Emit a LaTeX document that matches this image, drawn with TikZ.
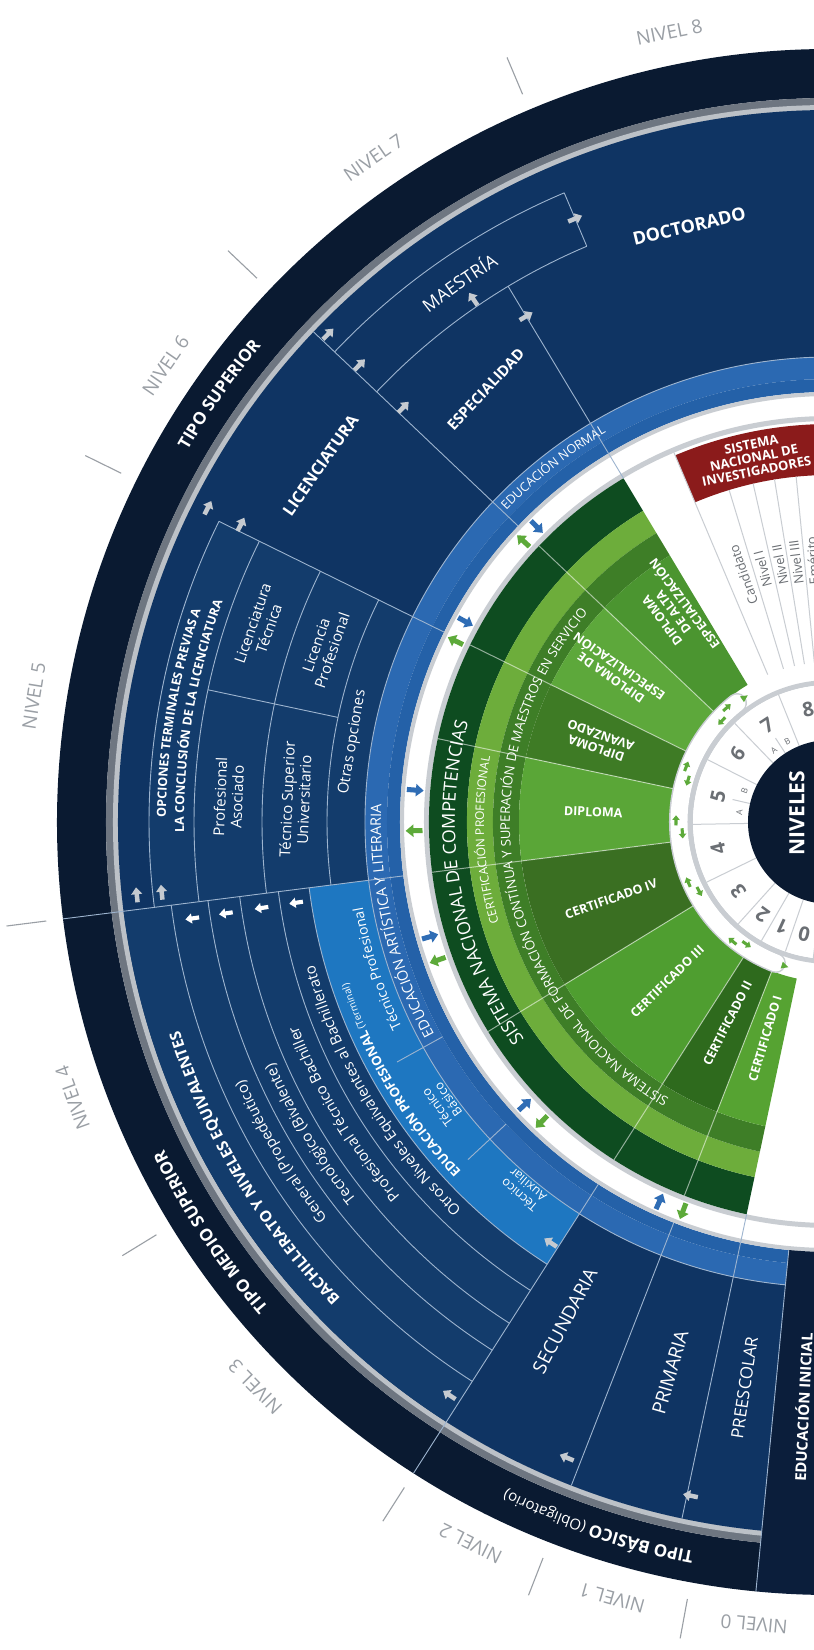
\documentclass[tikz,border=0pt]{standalone}
\usepackage{fontspec}
\setmainfont{Open Sans}
\usetikzlibrary{decorations.text}
\definecolor{navy}{HTML}{0A1A31}
\definecolor{inicial}{HTML}{0B1E3B}
\definecolor{gmid}{HTML}{6E7681}
\definecolor{glight}{HTML}{BCC1C7}
\definecolor{mblue}{HTML}{0F3463}
\definecolor{rblue}{HTML}{133C6C}
\definecolor{nbo}{HTML}{2B69B2}
\definecolor{nbi}{HTML}{2461A8}
\definecolor{pblue}{HTML}{1E77C1}
\definecolor{lline}{HTML}{9DB4CF}
\definecolor{gdark}{HTML}{0E4C20}
\definecolor{glt}{HTML}{6DAD3B}
\definecolor{gmd}{HTML}{3E7E27}
\definecolor{sA}{HTML}{4B9530}
\definecolor{sB}{HTML}{5DA83B}
\definecolor{sC}{HTML}{3E7B25}
\definecolor{sD}{HTML}{5AA637}
\definecolor{sE}{HTML}{3A6F22}
\definecolor{sF}{HTML}{4F9E30}
\definecolor{sG}{HTML}{2E6A1D}
\definecolor{sH}{HTML}{56A332}
\definecolor{snired}{HTML}{8B1B1B}
\definecolor{ringgray}{HTML}{C9CDD2}
\definecolor{numgray}{HTML}{6B6F74}
\definecolor{lvlgray}{HTML}{9A9FA5}
\definecolor{arrg}{HTML}{C5CAD0}
\definecolor{arrb}{HTML}{2F6DB5}
\definecolor{arrgr}{HTML}{5DAA3A}
\newcommand\fsz[1]{\fontsize{#1}{#1}\selectfont}
\newcommand\annul[5]{\fill[#5] (#1:#3) arc[start angle=#1,end angle=#2,radius=#3] -- (#2:#4) arc[start angle=#2,end angle=#1,radius=#4] -- cycle;}
\newcommand\radl[4][lnc]{\draw[#1] (#2:#3) -- (#2:#4);}
\newcommand\carc[4][lnc]{\draw[#1] (#2:#4) arc[start angle=#2,end angle=#3,radius=#4];}
\newcommand\ctxt[5]{\path[decorate,decoration={text along path,text align=center,text={|#4|#5}}] (#1:#3) arc[start angle=#1,end angle=#2,radius=#3];}
\newcommand\barrow[5][1]{\fill[#5,shift={(#2:#3)},rotate=#4,scale=#1] (-6,-1.8) -- (0.5,-1.8) -- (0.5,-4.5) -- (6,0) -- (0.5,4.5) -- (0.5,1.8) -- (-6,1.8) -- cycle;}
\newcommand\tri[4]{\fill[#4,shift={(#1:#2)},rotate=#3] (4,0) -- (-3,3.5) -- (-3,-3.5) -- cycle;}
\begin{document}
\begin{tikzpicture}[x=1pt,y=1pt,
  lnc/.style={draw=lline,line width=0.9pt},
  gln/.style={draw=white,draw opacity=0.55,line width=1pt},
  gyln/.style={draw=ringgray,line width=1pt},
  lvl/.style={text=lvlgray,font=\fsz{19}},
  tickl/.style={draw=lvlgray,line width=1.1pt},
  wlab/.style={text=white,font=\fontsize{15}{17}\selectfont,align=center},
  wbold/.style={text=white,font=\fsz{15}\bfseries},
  glab/.style={text=white,font=\fontsize{12.5}{14}\selectfont\bfseries,align=center},
  num/.style={text=numgray,font=\fsz{20}\bfseries},
  sml/.style={text=numgray,font=\fsz{8.5}},
  sni/.style={text=numgray,font=\fsz{13}},
]
\useasboundingbox (-830,-828) rectangle (-16,822);
\fill[white] (-830,-828) rectangle (-16,822);

% ---------- outer ring and gray band
\annul{88}{264.5}{773}{724}{navy}
\annul{88}{264.5}{724}{712}{gmid}
\annul{88}{264.5}{717}{712}{glight}
% ---------- main blue regions
\annul{88}{264.5}{712}{465}{mblue}
\annul{187.2}{237.4}{712}{525}{rblue}
\annul{153.8}{187.2}{681}{465}{rblue}
\annul{187.2}{237.4}{525}{465}{pblue}
% ---------- normal band
\annul{88}{264.5}{465}{443}{nbo}
\annul{88}{264.5}{443}{430}{nbi}
% ---------- white ring borders
\annul{88}{272}{430}{426}{ringgray}
\annul{88}{272}{406}{401}{ringgray}
% ---------- educacion inicial
\annul{264.5}{272}{773}{430}{inicial}

% ---------- green
\annul{121}{258}{401}{363}{gdark}
\annul{121}{258}{363}{337}{glt}
\annul{121}{258}{337}{311}{gmd}
\annul{121}{136.5}{311}{160}{sA}
\annul{136.5}{153.8}{311}{160}{sB}
\annul{153.8}{168}{311}{160}{sC}
\annul{168}{187.2}{311}{160}{sD}
\annul{187.2}{211.5}{311}{160}{sE}
\annul{211.5}{237.4}{311}{160}{sF}
\annul{237.4}{248.7}{311}{160}{sG}
\annul{248.7}{258}{311}{160}{sH}
\foreach \a in {136.5,153.8,168,187.2,211.5,237.4,248.7} {\radl[gln]{\a}{401}{160}}

% ---------- SNI
\annul{88}{112.9}{398}{347}{snired}
\radl[gyln]{112.9}{401}{160}
\foreach \a in {106.9,102.8,99.2,95.6} {\radl[gyln]{\a}{347}{160}}

% ---------- track, number ring, centre
\draw[ringgray,line width=20pt,line cap=round] (128:151) arc[start angle=128,end angle=249,radius=151];
\draw[white,line width=17pt,line cap=round] (128:151) arc[start angle=128,end angle=249,radius=151];
\annul{88}{272}{142}{137}{ringgray}
\annul{88}{272}{137}{82}{white}
\foreach \a in {112,134,153,181,206,228,240,251,263} {\radl[gyln]{\a}{82}{137}}
\radl[gyln]{123}{82}{100}
\radl[gyln]{167}{82}{100}
\fill[navy] (0,0) circle[radius=82];

% ---------- region lines
\radl{187.2}{773}{430}
\radl{237.4}{773}{430}
\radl{264.5}{773}{430}
\radl{136.5}{712}{430}
\radl{153.8}{681}{430}
\radl{121}{625}{401}
\radl{112.9}{683}{625}
\radl{248.7}{712}{430}
\radl{258}{712}{401}
\carc{153.8}{187.2}{681}
\carc{153.8}{187.2}{636}
\carc{153.8}{187.2}{568}
\carc{153.8}{187.2}{503}
\radl{168}{636}{503}
\carc{136.5}{112.9}{683}
\carc{136.5}{112.9}{625}
\carc{187.2}{237.4}{664}
\carc{187.2}{237.4}{627}
\carc{187.2}{237.4}{595}
\carc{187.2}{237.4}{556}
\carc{187.2}{237.4}{525}
\radl{209}{495}{443}
\radl{223}{495}{443}
\carc{88}{264.5}{465}

% ---------- outer level labels and ticks
\foreach \a/\t in {101.5/8,124.5/7,145.5/6,171/5,200/4,224.5/3,243.5/2,254.3/1,264.6/0}
  {\node[lvl,rotate=\a-90] (lv\t) at (\a:806) {NIVEL \t};}
\foreach \a in {112.9,136.5,153.8,187.2,211.5,237.4,248.7,259.6}
  {\draw[tickl] (\a:790) -- (\a:830);}

% ---------- outer ring texts
\ctxt{170}{120}{742}{\fsz{17}\bfseries\color{white}}{TIPO SUPERIOR}
\ctxt{245}{182}{742}{\fsz{17}\bfseries\color{white}}{TIPO MEDIO SUPERIOR}
\ctxt{266}{237.6}{742}{\fsz{17}\bfseries\color{white}}{TIPO BÁSICO |\fsz{15}\mdseries\color{white}|(Obligatorio)}

% ---------- superior
\node[text=white,font=\fsz{18}\bfseries,rotate=13.3] (doc) at (103.3:612) {DOCTORADO};
\ctxt{140}{109}{648}{\fsz{18}\color{white}}{MAESTRÍA}
\node[wbold,rotate=47] (esp) at (128.5:553) {ESPECIALIDAD};
\node[text=white,font=\fsz{16.5}\bfseries,rotate=55] (lic) at (145:622) {LICENCIATURA};
\ctxt{139}{117}{449}{\fsz{12.5}\color{white}}{EDUCACIÓN NORMAL}
\ctxt{187}{154}{664}{\fsz{12.5}\bfseries\color{white}}{OPCIONES TERMINALES PREVIAS A}
\ctxt{187}{154}{646}{\fsz{12.5}\bfseries\color{white}}{LA CONCLUSIÓN DE LA LICENCIATURA}
\node[wlab,rotate=71] (lt) at (161:602) {Licenciatura\\Técnica};
\node[wlab,rotate=87.6] (pa) at (177.6:602) {Profesional\\Asociado};
\node[wlab,rotate=71] (lp) at (161:535) {Licencia\\Profesional};
\node[wlab,rotate=87.6] (tsu) at (177.6:535) {Técnico Superior\\Universitario};
\node[wlab,rotate=80.5] (oo) at (170.5:484) {Otras opciones};

% ---------- medio superior
\ctxt{236}{186}{683}{\fsz{15.5}\bfseries\color{white}}{BACHILLERATO Y NIVELES EQUIVALENTES}
\ctxt{236}{186}{640}{\fsz{15}\color{white}}{General (Propedéutico)}
\ctxt{236}{186}{606}{\fsz{15}\color{white}}{Tecnológico (Bivalente)}
\ctxt{236}{186}{570}{\fsz{15}\color{white}}{Profesional Técnico Bachiller}
\ctxt{236}{186}{535}{\fsz{15}\color{white}}{Otros Niveles Equivalentes al Bachillerato}
\ctxt{236}{186}{508}{\fsz{13}\bfseries\color{white}}{EDUCACIÓN PROFESIONAL |\fsz{10}\mdseries\color{white}|(Terminal)}
\ctxt{209}{187}{475}{\fsz{14}\color{white}}{Técnico Profesional}
\node[wlab,font=\fontsize{12.5}{13.5}\selectfont,rotate=126] (tb) at (216:479) {Técnico\\Básico};
\node[wlab,font=\fontsize{12.5}{13.5}\selectfont,rotate=140] (ta) at (230.2:479) {Técnico\\Auxiliar};
\ctxt{215}{171}{449}{\fsz{14.5}\color{white}}{EDUCACIÓN ARTÍSTICA Y LITERARIA}

% ---------- basico
\node[text=white,font=\fsz{19},rotate=62] (sec) at (242:565) {SECUNDARIA};
\node[text=white,font=\fsz{19},rotate=73.8] (pri) at (253.8:573) {PRIMARIA};
\node[text=white,font=\fsz{17},rotate=81.4] (pre) at (261.4:572) {PREESCOLAR};
\node[text=white,font=\fsz{15}\bfseries,rotate=87.3] (ini) at (267.3:586) {EDUCACIÓN INICIAL};

% ---------- green texts
\ctxt{230}{150}{375}{\fsz{18}\color{white}}{SISTEMA NACIONAL DE COMPETENCIAS}
\ctxt{218}{148}{346}{\fsz{12}\color{white}}{CERTIFICACIÓN PROFESIONAL}
\ctxt{258}{121}{320}{\fsz{13.2}\color{white}}{SISTEMA NACIONAL DE FORMACIÓN CONTÍNUA Y SUPERACIÓN DE MAESTROS EN SERVICIO}
\node[glab,rotate=126.7] (d1) at (126.7:262) {DIPLOMA\\DE ALTA\\ESPECIALIZACIÓN};
\node[glab,rotate=145.1] (d2) at (145.1:262) {DIPLOMA DE\\ESPECIALIZACIÓN};
\node[glab,rotate=160.9] (d3) at (160.9:245) {DIPLOMA\\AVANZADO};
\node[glab,rotate=-2.4] (d4) at (177.6:237) {DIPLOMA};
\node[glab,rotate=19.35] (c4) at (199.35:232) {CERTIFICADO IV};
\node[glab,rotate=44.45] (c3) at (224.45:228) {CERTIFICADO III};
\node[glab,rotate=63] (c2) at (243:226) {CERTIFICADO II};
\node[glab,rotate=73.3] (c1) at (253.3:226) {CERTIFICADO I};

% ---------- SNI texts
\node[text=white,font=\fontsize{13}{13.5}\selectfont\bfseries,align=center,rotate=11.5] (snih) at (101.8:372) {SISTEMA\\NACIONAL DE\\INVESTIGADORES};
\foreach \a/\t in {109.3/Candidato,104.9/Nivel I,101/Nivel II,97.4/Nivel III,93.8/Emérito}
  {\node[sni,rotate=\a] at (\a:262) {\t};}

% ---------- numbers
\foreach \a/\t in {101/8,123/7,143.5/6,167/5,193.5/4,217/3,234/2,245.5/1,257/0}
  {\node[num,rotate=\a-90] (n\t) at (\a:115) {\t};}
\node[sml,rotate=38] at (128:91) {A};
\node[sml,rotate=28] at (118:91) {B};
\node[sml,rotate=84] at (174:91) {A};
\node[sml,rotate=70] at (160:91) {B};
\node[text=white,font=\fsz{21}\bfseries,rotate=90] (niv) at (-33,9) {NIVELES};

% ---------- arrows
\barrow[1.25]{135.8}{700}{45.8}{arrg}
\barrow[1.25]{135.8}{656}{45.8}{arrg}
\barrow[1.25]{135.8}{595}{45.8}{arrg}
\barrow[1.25]{124.3}{633}{124.3}{arrg}
\barrow[1.25]{121}{590}{31}{arrg}
\barrow[1.25]{112.9}{655}{22.9}{arrg}
\barrow[1.25]{153.2}{697}{63.2}{arrg}
\barrow[1.25]{153.2}{660}{63.2}{arrg}
\barrow[1.25]{186}{697}{96}{arrg}
\barrow[1.25]{186}{672}{96}{arrg}
\barrow[1.25]{236.4}{688}{146.4}{arrg}
\barrow[1.25]{236.4}{505}{146.4}{arrg}
\barrow[1.25]{247.5}{688}{157.5}{arrg}
\barrow[1.25]{258.3}{688}{168.3}{arrg}
\foreach \r in {645,611,575,540} {\barrow[1.15]{188.6}{\r}{188.6}{white}}
\foreach \b/\g in {134.8/137.5,151.2/154.2,175.6/181.2,196/199.4,222.8/226.1,245.8/249.3}
  {\barrow[1.4]{\b}{416}{\b+180}{arrb}\barrow[1.4]{\g}{416}{\g}{arrgr}}
\foreach \a [evaluate=\a as \aL using \a-2.5, evaluate=\a as \aR using \a+2.5,
             evaluate=\a as \dL using \a-92.5, evaluate=\a as \dR using \a+92.5] in {134.5,161.3,181.9,205.5,233.2}
  {\barrow[0.85]{\aL}{154}{\dL}{arrgr}\barrow[0.85]{\aR}{148}{\dR}{arrgr}}
\tri{124.5}{151}{34.5}{arrgr}
\tri{252.5}{151}{342.5}{arrgr}
\end{tikzpicture}
\end{document}
